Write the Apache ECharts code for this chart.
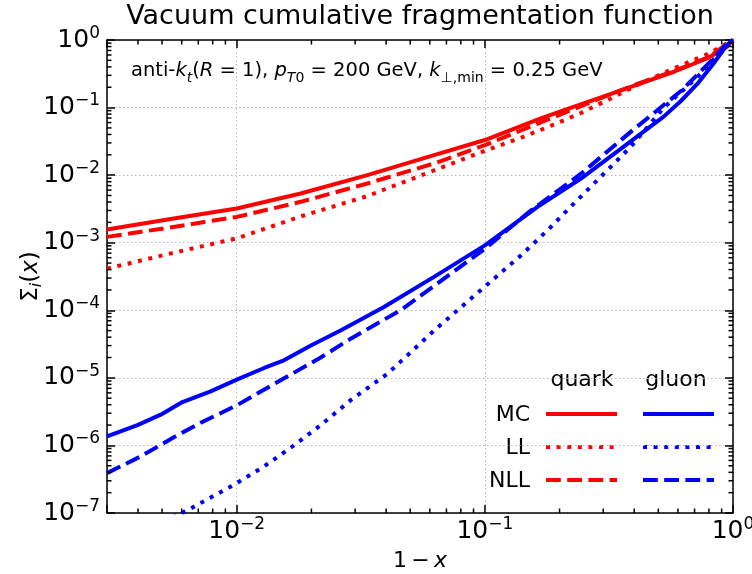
<!DOCTYPE html>
<html>
<head>
<meta charset="utf-8">
<script src="https://cdn.jsdelivr.net/npm/echarts@6/dist/echarts.min.js"></script>
<style>
html, body { margin: 0; padding: 0; background: #fff; }
#chart { width: 752px; height: 574px; }
</style>
</head>
<body>
<div id="chart"></div>
<script>
// values (x = 1 - x, y = Sigma_i(x))
const quarkMcX = [0.003, 0.00526, 0.01, 0.0181, 0.0336, 0.0624, 0.1, 0.168, 0.229, 0.312, 0.425, 0.578, 0.789, 0.946, 1.0];
const quarkMcY = [1.57e-3, 2.2e-3, 3.21e-3, 5.35e-3, 1.0e-2, 0.0198, 0.0331, 0.0692, 0.103, 0.153, 0.228, 0.339, 0.537, 0.794, 1.0];

const quarkNllX = [0.003, 0.00526, 0.01, 0.0181, 0.0336, 0.0624, 0.1, 0.168, 0.229, 0.312, 0.425, 0.578, 0.789, 1.0];
const quarkNllY = [1.22e-3, 1.66e-3, 2.41e-3, 4.03e-3, 7.53e-3, 0.0149, 0.0278, 0.0603, 0.0955, 0.151, 0.234, 0.347, 0.55, 1.0];

const quarkLlX = [0.003, 0.00526, 0.01, 0.0181, 0.0336, 0.0624, 0.1, 0.141, 0.179, 0.244, 0.316, 0.425, 0.578, 0.789, 1.0];
const quarkLlY = [4.14e-4, 6.76e-4, 1.16e-3, 2.45e-3, 4.9e-3, 0.01175, 0.0229, 0.0363, 0.0513, 0.0832, 0.132, 0.229, 0.38, 0.617, 1.0];

const gluonMcX = [0.003, 0.00398, 0.00494, 0.00604, 0.00785, 0.01, 0.0129, 0.0153, 0.0199, 0.0262, 0.0392, 0.0624, 0.1, 0.163, 0.244, 0.387, 0.527, 0.615, 0.718, 0.838, 0.946, 1.0];
const gluonMcY = [1.36e-6, 2.0e-6, 2.85e-6, 4.39e-6, 6.31e-6, 9.4e-6, 1.4e-5, 1.78e-5, 3.02e-5, 5.01e-5, 1.12e-4, 3.12e-4, 9.12e-4, 3.39e-3, 8.91e-3, 0.0316, 0.0741, 0.124, 0.224, 0.457, 0.851, 1.0];

const gluonNllX = [0.003, 0.0041, 0.0056, 0.00716, 0.01, 0.0146, 0.0218, 0.0288, 0.0457, 0.0624, 0.1, 0.15, 0.244, 0.387, 0.527, 0.615, 0.718, 0.838, 0.946, 1.0];
const gluonNllY = [3.89e-7, 6.87e-7, 1.33e-6, 2.17e-6, 3.92e-6, 8.67e-6, 2.0e-5, 3.8e-5, 1.0e-4, 2.29e-4, 8.13e-4, 2.82e-3, 0.0105, 0.0437, 0.11, 0.174, 0.306, 0.541, 0.891, 1.0];

const gluonLlX = [0.0055, 0.00653, 0.00977, 0.0129, 0.017, 0.0218, 0.0288, 0.0405, 0.0624, 0.109, 0.14, 0.179, 0.225, 0.284, 0.332, 0.387, 0.527, 0.718, 0.838, 1.0];
const gluonLlY = [8.5e-8, 1.17e-7, 2.63e-7, 4.9e-7, 1.0e-6, 2.0e-6, 4.68e-6, 1.15e-5, 5.01e-5, 2.95e-4, 6.53e-4, 1.53e-3, 3.6e-3, 8.43e-3, 0.0149, 0.0263, 0.1, 0.282, 0.525, 1.0];

// axis ranges and minor tick mantissas
const X_MIN = 0.003, X_MAX = 1;
const Y_MIN = 1e-7, Y_MAX = 1;
const minorMantissas = [2, 3, 4, 5, 6, 7, 8, 9];
const xDecades = [-3, -2, -1];
const yDecades = [-7, -6, -5, -4, -3, -2, -1];

const FONT = 'DejaVu Sans';
const RED = '#ff0000', BLUE = '#0000ff';
const DOT = [4, 6.6], DASH = [14.8, 6.4];

const minorX = [];
xDecades.forEach(d => minorMantissas.forEach(m => {
  const v = m * Math.pow(10, d);
  if (v > X_MIN && v < X_MAX) minorX.push(v);
}));
const minorY = [];
yDecades.forEach(d => minorMantissas.forEach(m => minorY.push(m * Math.pow(10, d))));

const pairs = (xs, ys) => xs.map((x, i) => [x, ys[i]]);

function powLabel(v) {
  const e = Math.round(Math.log10(v));
  if (Math.abs(Math.log10(v) - e) > 1e-6) return '';
  return '{b|10}{e|' + (e < 0 ? '\u2212' + (-e) : e) + '}';
}
const labelRich = {
  b: { fontFamily: FONT, fontSize: 25, lineHeight: 30, color: '#000' },
  e: { fontFamily: FONT, fontSize: 17, lineHeight: 13, verticalAlign: 'top', color: '#000' }
};

function lineSeries(name, xs, ys, color, type) {
  return {
    name: name,
    type: 'line',
    data: pairs(xs, ys),
    showSymbol: false,
    symbol: 'none',
    clip: true,
    lineStyle: { color: color, width: 4, type: type, cap: 'butt' },
    z: 3
  };
}

const tickStyle = { stroke: '#000', lineWidth: 1.5 };
const minorTickSeries = [
  {
    type: 'custom',
    silent: true,
    clip: false,
    z: 6,
    data: minorX.map(v => [v, Y_MIN]),
    renderItem: function (params, api) {
      const cs = params.coordSys;
      const px = api.coord([api.value(0), Y_MIN])[0];
      return {
        type: 'group',
        children: [
          { type: 'line', shape: { x1: px, y1: cs.y + cs.height, x2: px, y2: cs.y + cs.height - 4.5 }, style: tickStyle },
          { type: 'line', shape: { x1: px, y1: cs.y, x2: px, y2: cs.y + 4.5 }, style: tickStyle }
        ]
      };
    }
  },
  {
    type: 'custom',
    silent: true,
    clip: false,
    z: 6,
    data: minorY.map(v => [X_MIN, v]),
    renderItem: function (params, api) {
      const cs = params.coordSys;
      const py = api.coord([X_MIN, api.value(1)])[1];
      return {
        type: 'group',
        children: [
          { type: 'line', shape: { x1: cs.x, y1: py, x2: cs.x + 4.5, y2: py }, style: tickStyle },
          { type: 'line', shape: { x1: cs.x + cs.width, y1: py, x2: cs.x + cs.width - 4.5, y2: py }, style: tickStyle }
        ]
      };
    }
  }
];

const axisLineStyle = { show: true, onZero: false, lineStyle: { color: '#000', width: 1.5 } };
const majorTick = { show: true, inside: true, length: 8, lineStyle: { color: '#000', width: 1.5 } };
const gridLine = { show: true, lineStyle: { color: '#b8b8b8', width: 1, type: [1.5, 2.5] } };

// legend drawn as a small table: headers, row names, line samples
const legendRows = [
  { label: 'MC', y: 414, dash: null },
  { label: 'LL', y: 447, dash: DOT },
  { label: 'NLL', y: 480, dash: DASH }
];
const legendGraphics = [
  { type: 'text', x: 582, y: 380, style: { text: 'quark', font: '22px "DejaVu Sans"', fill: '#000', align: 'center', verticalAlign: 'middle' } },
  { type: 'text', x: 676, y: 380, style: { text: 'gluon', font: '22px "DejaVu Sans"', fill: '#000', align: 'center', verticalAlign: 'middle' } }
];
legendRows.forEach(r => {
  legendGraphics.push({ type: 'text', x: 530, y: r.y + 1, style: { text: r.label, font: '22px "DejaVu Sans"', fill: '#000', align: 'right', verticalAlign: 'middle' } });
  legendGraphics.push({ type: 'line', shape: { x1: 546, y1: r.y, x2: 617, y2: r.y }, style: { stroke: RED, lineWidth: 4, lineDash: r.dash } });
  legendGraphics.push({ type: 'line', shape: { x1: 643, y1: r.y, x2: 714, y2: r.y }, style: { stroke: BLUE, lineWidth: 4, lineDash: r.dash } });
});

const annotation = {
  type: 'text',
  x: 131,
  y: 71,
  style: {
    text: '{n|anti-}{i|k}{si|t}{n|(}{i|R}{n| = 1), }{i|p}{si|T}{s|0}{n| = 200 GeV, }{i|k}{s|\u22a5,min}{n| = 0.25 GeV}',
    verticalAlign: 'middle',
    rich: {
      n: { fontFamily: FONT, fontSize: 19.5, lineHeight: 28, color: '#000' },
      i: { fontFamily: FONT, fontSize: 19.5, lineHeight: 28, fontStyle: 'italic', color: '#000' },
      si: { fontFamily: FONT, fontSize: 14, lineHeight: 15, fontStyle: 'italic', verticalAlign: 'bottom', color: '#000' },
      s: { fontFamily: FONT, fontSize: 14, lineHeight: 15, verticalAlign: 'bottom', color: '#000' }
    }
  },
  z: 10
};

const chart = echarts.init(document.getElementById('chart'), null, { renderer: 'canvas' });
chart.setOption({
  animation: false,
  backgroundColor: '#fff',
  title: {
    text: 'Vacuum cumulative fragmentation function',
    left: 420,
    top: 1,
    textAlign: 'center',
    padding: 0,
    textStyle: { fontFamily: FONT, fontSize: 27, fontWeight: 'normal', color: '#000', lineHeight: 32 }
  },
  grid: { left: 107, right: 19, top: 40, bottom: 61, containLabel: false, outerBoundsMode: 'none' },
  xAxis: [
    {
      type: 'log', logBase: 10, min: X_MIN, max: X_MAX,
      name: '{n|1\u2009\u2212\u2009}{i|x}',
      nameLocation: 'middle',
      nameGap: 34,
      nameMoveOverlap: false,
      nameTextStyle: {
        rich: {
          n: { fontFamily: FONT, fontSize: 22, lineHeight: 28, color: '#000' },
          i: { fontFamily: FONT, fontSize: 22, lineHeight: 28, fontStyle: 'italic', color: '#000' }
        }
      },
      axisLine: axisLineStyle,
      axisTick: majorTick,
      splitLine: gridLine,
      axisLabel: { margin: 3, formatter: powLabel, rich: labelRich, showMinLabel: true, showMaxLabel: true }
    },
    {
      type: 'log', logBase: 10, min: X_MIN, max: X_MAX, position: 'top',
      axisLine: axisLineStyle, axisTick: majorTick, splitLine: { show: false }, axisLabel: { show: false }
    }
  ],
  yAxis: [
    {
      type: 'log', logBase: 10, min: Y_MIN, max: Y_MAX,
      name: '{n|\u03a3}{s|i}{n|(}{i|x}{n|)}',
      nameLocation: 'middle',
      nameRotate: 90,
      nameGap: 62,
      nameMoveOverlap: false,
      nameTextStyle: {
        rich: {
          n: { fontFamily: FONT, fontSize: 23, lineHeight: 28, color: '#000' },
          i: { fontFamily: FONT, fontSize: 23, lineHeight: 28, fontStyle: 'italic', color: '#000' },
          s: { fontFamily: FONT, fontSize: 16, lineHeight: 14, fontStyle: 'italic', verticalAlign: 'bottom', color: '#000' }
        }
      },
      axisLine: axisLineStyle,
      axisTick: majorTick,
      splitLine: gridLine,
      axisLabel: { margin: 7, formatter: powLabel, rich: labelRich, showMinLabel: true, showMaxLabel: true }
    },
    {
      type: 'log', logBase: 10, min: Y_MIN, max: Y_MAX, position: 'right',
      axisLine: axisLineStyle, axisTick: majorTick, splitLine: { show: false }, axisLabel: { show: false }
    }
  ],
  graphic: [annotation].concat(legendGraphics),
  series: [
    lineSeries('quark MC', quarkMcX, quarkMcY, RED, 'solid'),
    lineSeries('quark LL', quarkLlX, quarkLlY, RED, DOT),
    lineSeries('quark NLL', quarkNllX, quarkNllY, RED, DASH),
    lineSeries('gluon MC', gluonMcX, gluonMcY, BLUE, 'solid'),
    lineSeries('gluon LL', gluonLlX, gluonLlY, BLUE, DOT),
    lineSeries('gluon NLL', gluonNllX, gluonNllY, BLUE, DASH)
  ].concat(minorTickSeries)
});
</script>
</body>
</html>
